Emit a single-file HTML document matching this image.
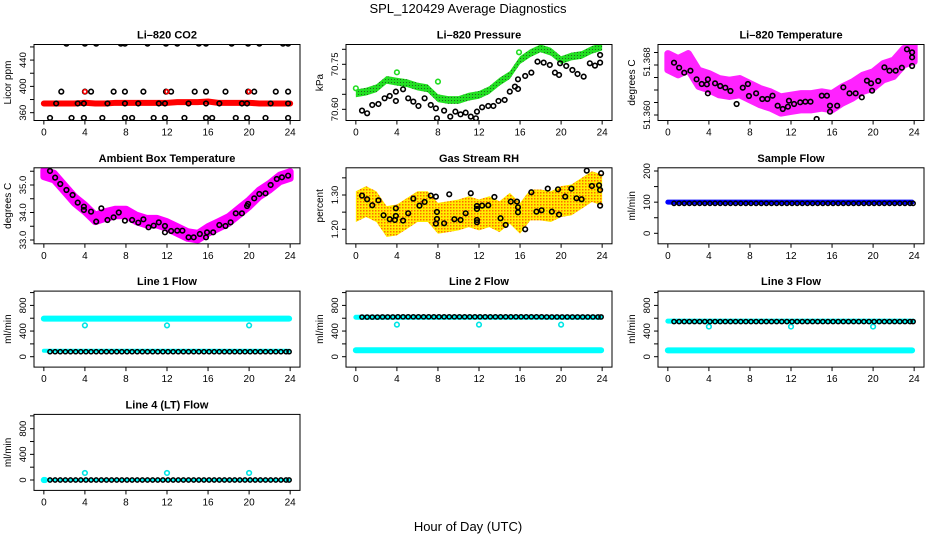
<!DOCTYPE html>
<html><head><meta charset="utf-8"><style>
body{margin:0;background:#fff}
svg text{font-family:"Liberation Sans",sans-serif}
</style></head><body>
<svg id="chart" width="936" height="540" viewBox="0 0 936 540" xmlns="http://www.w3.org/2000/svg">
<defs>
<pattern id="patYel" width="3" height="3" patternUnits="userSpaceOnUse"><rect width="3" height="3" fill="#ffee00"/><rect x="0" y="0" width="1.5" height="1.5" fill="#ff6a00"/></pattern>
<pattern id="patGrn" width="3" height="3" patternUnits="userSpaceOnUse"><rect width="3" height="3" fill="#22e022"/><rect x="1" y="1" width="1" height="1" fill="#226622"/></pattern>
</defs>
<text x="468" y="13" font-size="13" text-anchor="middle">SPL_120429  Average Diagnostics</text>
<text x="468" y="531" font-size="13" text-anchor="middle">Hour of Day (UTC)</text>
<g id="panels"></g>
</svg>
<script>
// ---------- data ----------
const hours = [0,1,2,3,4,5,6,7,8,9,10,11,12,13,14,15,16,17,18,19,20,21,22,23,24];
const flowTimes = [0.6,1.1,1.6,2.1,2.6,3.1,3.6,4.1,4.6,5.1,5.6,6.1,6.6,7.1,7.6,8.1,8.6,9.1,9.6,10.1,10.6,11.1,11.6,12.1,12.6,13.1,13.6,14.1,14.6,15.1,15.6,16.1,16.6,17.1,17.6,18.1,18.6,19.1,19.6,20.1,20.6,21.1,21.6,22.1,22.6,23.1,23.6,23.9];
const outTimes = [4,12,20];

const co2Band = [374,374,374,374,375,374,374,375,375,375,375,375,375,376,376,376,377,375,375,375,375,374,374,374,374];
const co2Times = [1.2,3.3,3.9,6.2,7.9,9.2,11.2,11.8,14.1,15.8,17.1,19.3,19.8,22.1,23.8, 2.2,4,5.1,7.5,7.9,10.1,11.9,13,15.1,15.8,18.3,19.9,21,23.3,23.8, 1.7,4,4.6,6.8,7.9,9.7,11.9,12.4,14.7,15.8,17.7,19.9,20.5,22.6,23.8, 0.6,2.7,3.9,5.7,7.9,8.6,10.7,11.8,13.7,15.8,16.4,18.7,19.8,21.6,23.8];
const co2Vals = [374,374,374,374,374,374,374,374,374,374,374,374,374,374,374, 465,465,465,465,465,465,465,465,465,465,465,465,465,465,465, 392,392,392,392,392,392,392,392,392,392,392,392,392,392,392, 352,352,352,352,352,352,352,352,352,352,352,352,352,352,352];
const co2RedTimes = [4,12,20];
const co2RedVals = [392,392,392];

const presBand = [70.653,70.659,70.670,70.698,70.692,70.687,70.676,70.670,70.637,70.631,70.631,70.642,70.648,70.664,70.692,70.714,70.764,70.787,70.803,70.792,70.764,70.776,70.781,70.798,70.809];
const presTimes = [0.6,1.1,1.6,2.2,2.8,3.3,3.9,3.9,4.6,5.1,5.6,6.1,6.7,7.3,7.8,7.9,8.6,9.2,9.7,10.2,10.7,11.2,11.7,11.8,12.3,12.9,13.4,13.9,14.5,15,15.5,15.8,15.8,16.5,17.1,17.7,18.3,18.9,19.4,19.8,19.9,20.5,21.1,21.6,22.2,22.8,23.3,23.8,23.8];
const presVals = [70.5956,70.5867,70.6144,70.6178,70.6367,70.6444,70.6278,70.6589,70.6667,70.6367,70.6256,70.6111,70.6367,70.6144,70.6033,70.57,70.5956,70.5756,70.5922,70.5833,70.5889,70.5756,70.57,70.5922,70.6067,70.6111,70.6111,70.6278,70.6311,70.6589,70.6756,70.6678,70.70,70.7111,70.7222,70.7589,70.7556,70.7478,70.7222,70.7144,70.7533,70.7444,70.7311,70.7178,70.7089,70.7533,70.7456,70.7811,70.7556];
const presOutTimes = [0,4,8,15.9];
const presOutVals = [70.67,70.7233,70.6922,70.79];

const tempBand = [51.36853,51.36773,51.36853,51.36587,51.36533,51.36453,51.36427,51.36453,51.36373,51.36293,51.3624,51.3616,51.36187,51.36213,51.36213,51.3624,51.36213,51.3632,51.364,51.36507,51.3656,51.36693,51.36747,51.36933,51.36987];
const tempTimes = [0.6,1.1,1.6,2.2,2.8,3.3,3.8,3.9,3.9,4.6,5.1,5.6,6.1,6.7,7.3,7.8,7.9,8.6,9.2,9.7,10.2,10.7,11.2,11.7,11.8,12.3,12.9,13.4,13.9,14.5,15,15.5,15.8,15.8,16.5,17.1,17.7,18.3,18.9,19.4,19.8,19.9,20.5,21.1,21.6,22.2,22.8,23.3,23.8,23.8,23.8];
const tempVals = [51.36837,51.36757,51.36677,51.36709,51.36571,51.36496,51.36491,51.36571,51.36347,51.36507,51.36464,51.36437,51.36384,51.36176,51.36437,51.36496,51.36304,51.36347,51.36256,51.36256,51.36309,51.36149,51.36096,51.36133,51.36229,51.36176,51.36203,51.36213,51.36213,51.35936,51.36309,51.36309,51.36149,51.36053,51.36149,51.36443,51.36347,51.36347,51.36283,51.36549,51.36507,51.36389,51.36544,51.36763,51.36709,51.36709,51.36757,51.37051,51.37003,51.36923,51.36784];

const ambBand = [35.424,35.303,34.879,34.455,34.152,33.788,33.909,34.0,34.0,33.788,33.667,33.667,33.545,33.364,33.182,33.121,33.364,33.545,33.727,34.03,34.333,34.697,34.939,35.242,35.364];
const ambTimes = [0.6,1.1,1.6,2.2,2.8,3.3,3.9,3.9,4.6,5.1,5.6,6.2,6.8,7.3,7.9,8.6,9.2,9.7,10.2,10.7,11.2,11.8,11.8,12.4,13,13.5,14.1,14.6,15.2,15.8,15.9,16.5,17.1,17.7,18.2,18.7,19.3,19.8,19.9,20.5,21,21.6,22.1,22.7,23.2,23.8];
const ambVals = [35.509,35.267,35.036,34.818,34.636,34.358,34.212,34.091,34.03,33.667,34.152,33.727,33.824,34.0,33.703,33.727,33.630,33.752,33.461,33.521,33.642,33.509,33.279,33.327,33.339,33.339,33.097,33.097,33.218,33.097,33.279,33.279,33.545,33.509,33.642,33.970,33.970,34.236,34.309,34.515,34.673,34.697,35.0,35.218,35.279,35.339];

const rhBand = [1.2661,1.2807,1.2661,1.2224,1.2272,1.2466,1.2661,1.2661,1.2321,1.2369,1.2418,1.2515,1.2418,1.2515,1.2369,1.2612,1.2321,1.2709,1.2709,1.2661,1.2807,1.2855,1.305,1.3244,1.3147];
const rhTimes = [0.6,1.1,1.6,2.2,2.7,3.3,3.8,3.9,3.9,4.6,5.1,5.6,6.2,6.7,7.3,7.8,7.9,7.9,7.8,8.6,9.1,9.6,10.2,10.7,11.2,11.8,11.8,11.8,11.8,12.3,12.9,13.5,14.1,14.6,15.1,15.7,15.8,15.8,16.5,17.1,17.6,18.1,18.7,19.1,19.7,19.8,20.4,21,21.5,22,22.5,23,23.7,23.8,23.8,23.9];
const rhVals = [1.2982,1.2875,1.27,1.2845,1.2408,1.2292,1.2272,1.2612,1.2389,1.2253,1.2466,1.2894,1.269,1.2797,1.2982,1.2952,1.2505,1.2301,1.2165,1.2175,1.302,1.2292,1.2272,1.2466,1.305,1.268,1.2593,1.2272,1.2204,1.269,1.27,1.2943,1.2321,1.2126,1.2807,1.2807,1.2641,1.2496,1.2,1.3079,1.2515,1.2554,1.3186,1.2515,1.3166,1.2428,1.2952,1.3186,1.2904,1.2875,1.371,1.3263,1.3283,1.3147,1.269,1.3633];

const sampBand = [100,100,100,100,100,100,100,100,100,100,100,100,100,100,100,100,100,100,100,100,100,100,100,100,100];
const sampVals = [96,96,96,96,96,96,96,96,96,96,96,96,96,96,96,96,96,96,96,96,96,96,96,96,96,96,96,96,96,96,96,96,96,96,96,96,96,96,96,96,96,96,96,96,96,96,96,96];

const l1High = [593,593,593,593,593,593,593,593,593,593,593,593,593,593,593,593,593,593,593,593,593,593,593,593,593];
const l1Low = [92,92,92,92,92,92,92,92,92,92,92,92,92,92,92,92,92,92,92,92,92,92,92,92,92];
const l1Vals = [78,78,78,78,78,78,78,78,78,78,78,78,78,78,78,78,78,78,78,78,78,78,78,78,78,78,78,78,78,78,78,78,78,78,78,78,78,78,78,78,78,78,78,78,78,78,78,78];
const l1Out = [488,488,488];

const l2High = [615,615,615,615,615,615,615,615,615,615,615,615,615,615,615,615,615,615,615,615,615,615,615,615,615];
const l2Low = [100,100,100,100,100,100,100,100,100,100,100,100,100,100,100,100,100,100,100,100,100,100,100,100,100];
const l2Vals = [618,618,618,618,620,620,620,622,622,622,622,622,622,622,622,622,622,622,622,622,622,622,622,622,622,622,622,622,622,622,622,622,622,622,622,622,620,620,620,620,620,620,620,620,620,620,620,620];
const l2Out = [500,500,500];

const l3High = [555,555,555,555,555,555,555,555,555,555,555,555,555,555,555,555,555,555,555,555,555,555,555,555,555];
const l3Low = [98,98,98,98,98,98,98,98,98,98,98,98,98,98,98,98,98,98,98,98,98,98,98,98,98];
const l3Vals = [548,548,548,548,548,548,548,548,548,548,548,548,548,548,548,548,548,548,548,548,548,548,548,548,548,548,548,548,548,548,548,548,548,548,548,548,548,548,548,548,548,548,548,548,548,548,548,548];
const l3Out = [470,470,470];

const l4Vals = [0,0,0,0,0,0,0,0,0,0,0,0,0,0,0,0,0,0,0,0,0,0,0,0,0,0,0,0,0,0,0,0,0,0,0,0,0,0,0,0,0,0,0,0,0,0,0,0];
const l4Out = [110,110,110];

// ---------- drawing ----------
const NS = "http://www.w3.org/2000/svg";
const root = document.getElementById('panels');
function mk(tag, attrs, parent){const e=document.createElementNS(NS,tag);for(const k in attrs)e.setAttribute(k,attrs[k]);(parent||root).appendChild(e);return e;}

function panel(o){
  const L=34+312*o.col, T=44.5+123.3*o.row, W=266, H=76;
  const g=mk('g',{});
  
  
  const xs=v=>L+(v+0.96)/25.92*W;
  const ys=v=>T+(o.ymax-v)/(o.ymax-o.ymin)*H;
  const clip='clip'+o.row+o.col;
  const cp=mk('clipPath',{id:clip},g); mk('rect',{x:L,y:T,width:W,height:H},cp);
  const data=mk('g',{'clip-path':'url(#'+clip+')'},g);
  
  
  o.draw({xs,ys,g:data});
  const box=mk('rect',{x:L,y:T,width:W,height:H,fill:'none',stroke:'#000','stroke-width':1},g);
  
  
  const t=mk('text',{x:L+W/2,y:T-6,'font-size':11,'font-weight':'bold','text-anchor':'middle'},g);
  t.textContent=o.title;
  
  
  [0,4,8,12,16,20,24].forEach(v=>{
    mk('line',{x1:xs(v),x2:xs(v),y1:T+H,y2:T+H+4,stroke:'#000'},g);
    const tl=mk('text',{x:xs(v),y:T+H+15,'font-size':10,'text-anchor':'middle'},g);
    tl.textContent=v;
    
    
  });
  o.yticks.forEach(v=>{mk('line',{x1:L-4,x2:L,y1:ys(v),y2:ys(v),stroke:'#000'},g);});
  o.ylabels.forEach((s,i)=>{
    const y=ys(o.ylabelVals[i]);
    const yl=mk('text',{x:0,y:0,'font-size':9.5,'text-anchor':'middle',transform:`translate(${L-8},${y}) rotate(-90)`},g);
    yl.textContent=s;
    
    
  });
  const yt=mk('text',{x:0,y:0,'font-size':10,'text-anchor':'middle',transform:`translate(${L-23},${T+H/2}) rotate(-90)`},g);
  yt.textContent=o.ytitle;
  
  
}
function pts(c,times,vals,color,r,sw){
  times.forEach((t,i)=>{
    const e=mk('circle',{cx:c.xs(t),cy:c.ys(vals[i]),r:r||2.3,fill:'none',stroke:color,'stroke-width':sw||1.6},c.g);
    
    
  });
}
function band(c,vals,spread,fill,padW){
  let d='';
  hours.forEach((t,i)=>{d+=(i?'L':'M')+c.xs(t)+','+c.ys(vals[i]+spread);});
  for(let i=hours.length-1;i>=0;i--) d+='L'+c.xs(hours[i])+','+c.ys(vals[i]-spread);
  d+='Z';
  const pat=fill.startsWith('url');
  const e=mk('path',{d,fill,stroke:pat?'none':fill,'stroke-width':padW||5,'stroke-linejoin':'round'},c.g);
  
  
  return e;
}
function line(c,vals,color,w,t0,t1){
  const tt=hours.map(h=>Math.min(Math.max(h,t0),t1));
  let d='';tt.forEach((t,i)=>{d+=(i?'L':'M')+c.xs(t)+','+c.ys(vals[i]);});
  const e=mk('path',{d,fill:'none',stroke:color,'stroke-width':w,'stroke-linecap':'round'},c.g);
  
  
}
const flowTicks=[0,200,400,600,800,1000];

panel({name:'co2-panel',row:0,col:0,title:'Li\u2013820 CO2',ytitle:'Licor ppm',ymin:348.1,ymax:463.7,
  yticks:[360,380,400,420,440,460],ylabels:['360','400','440'],ylabelVals:[360,400,440],
  draw:c=>{line(c,co2Band,'#ff0000',6,-0.2,24.1);pts(c,co2Times,co2Vals,'#000');pts(c,co2RedTimes,co2RedVals,'#ff0000',2,1.5);}});
panel({name:'pressure-panel',row:0,col:1,title:'Li\u2013820 Pressure',ytitle:'kPa',ymin:70.5627,ymax:70.816,
  yticks:[70.60,70.65,70.70,70.75,70.80],ylabels:['70.60','70.75'],ylabelVals:[70.60,70.75],
  draw:c=>{band(c,presBand,0.013,'url(#patGrn)',1);pts(c,presOutTimes,presOutVals,'#22dd22');pts(c,presTimes,presVals,'#000');}});
panel({name:'temperature-panel',row:0,col:2,title:'Li\u2013820 Temperature',ytitle:'degrees C',ymin:51.35912,ymax:51.37128,
  yticks:[51.360,51.362,51.364,51.366,51.368,51.370],ylabels:['51.360','51.368'],ylabelVals:[51.360,51.3685],
  draw:c=>{band(c,tempBand,0.0013,'#ff22ff',7);pts(c,tempTimes,tempVals,'#000');}});
panel({name:'ambient-temp-panel',row:1,col:0,title:'Ambient Box Temperature',ytitle:'degrees C',ymin:32.862,ymax:35.625,
  yticks:[33,33.5,34,34.5,35,35.5],ylabels:['33.0','34.0','35.0'],ylabelVals:[33,34,35],
  draw:c=>{band(c,ambBand,0.12,'#ff00ff',7);pts(c,ambTimes,ambVals,'#000');}});
panel({name:'rh-panel',row:1,col:1,title:'Gas Stream RH',ytitle:'percent',ymin:1.1577,ymax:1.3793,
  yticks:[1.20,1.25,1.30,1.35],ylabels:['1.20','1.30'],ylabelVals:[1.20,1.30],
  draw:c=>{band(c,rhBand,0.045,'url(#patYel)',1);pts(c,rhTimes,rhVals,'#000');}});
panel({name:'sample-flow-panel',row:1,col:2,title:'Sample Flow',ytitle:'ml/min',ymin:-33.7,ymax:210.3,
  yticks:[0,50,100,150,200],ylabels:['0','100','200'],ylabelVals:[0,100,200],
  draw:c=>{line(c,sampBand,'#0000ff',5,0,23.8);pts(c,flowTimes,sampVals,'#000',2.1,1.5);}});
panel({name:'line1-flow-panel',row:2,col:0,title:'Line 1 Flow',ytitle:'ml/min',ymin:-162,ymax:1023,
  yticks:flowTicks,ylabels:['0','400','800'],ylabelVals:[0,400,800],
  draw:c=>{line(c,l1High,'#00ffff',6,-0.1,23.9);line(c,l1Low,'#00ffff',4,0,23.9);pts(c,outTimes,l1Out,'#00e5e5');pts(c,flowTimes,l1Vals,'#000',2.1,1.5);}});
panel({name:'line2-flow-panel',row:2,col:1,title:'Line 2 Flow',ytitle:'ml/min',ymin:-162,ymax:1023,
  yticks:flowTicks,ylabels:['0','400','800'],ylabelVals:[0,400,800],
  draw:c=>{line(c,l2Low,'#00ffff',6,0,23.9);line(c,l2High,'#00ffff',5,0,23.9);pts(c,outTimes,l2Out,'#00e5e5');pts(c,flowTimes,l2Vals,'#000',2.1,1.5);}});
panel({name:'line3-flow-panel',row:2,col:2,title:'Line 3 Flow',ytitle:'ml/min',ymin:-162,ymax:1023,
  yticks:flowTicks,ylabels:['0','400','800'],ylabelVals:[0,400,800],
  draw:c=>{line(c,l3Low,'#00ffff',6,0,23.8);line(c,l3High,'#00ffff',5,0,23.9);pts(c,outTimes,l3Out,'#00e5e5');pts(c,flowTimes,l3Vals,'#000',2.1,1.5);}});
panel({name:'line4-flow-panel',row:3,col:0,title:'Line 4 (LT) Flow',ytitle:'ml/min',ymin:-162,ymax:1023,
  yticks:flowTicks,ylabels:['0','400','800'],ylabelVals:[0,400,800],
  draw:c=>{line(c,l4Vals.slice(0,25),'#00ffff',3,0,23.9);pts(c,[0,0.1],[0,0],'#00ffff');pts(c,outTimes,l4Out,'#00e5e5');pts(c,flowTimes,l4Vals,'#000',2.1,1.5);}});
</script>
</body></html>
